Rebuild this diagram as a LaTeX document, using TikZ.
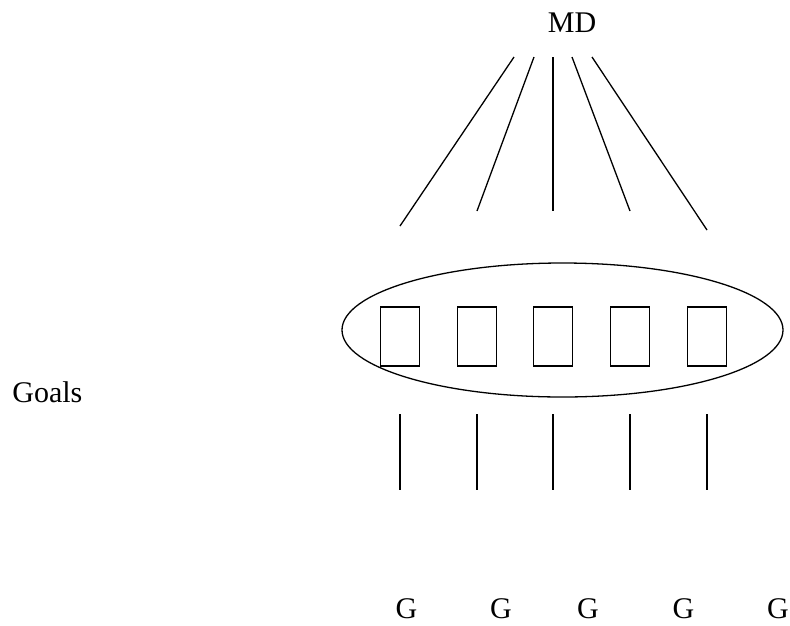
\documentclass[tikz,border=0pt]{standalone}
\usepackage{fontspec}
\setmainfont{Liberation Serif}
\usetikzlibrary{shapes.geometric}
\begin{document}
\begin{tikzpicture}[x=1pt,y=-1pt,
  line width=1.3pt,
  lbl/.style={inner sep=0pt,font=\fontsize{30}{36}\selectfont},
  goalbox/.style={draw,minimum width=39pt,minimum height=59pt,inner sep=0pt},
  ring/.style={draw,ellipse,minimum width=441pt,minimum height=134pt,inner sep=0pt}]
\useasboundingbox (0,0) rectangle (790,625);

% labels
\node[lbl,anchor=base] (md) at (572,32) {MD};
\node[lbl,anchor=base east] (goals) at (83,402) {Goals};

% ellipse holding the five boxes
\node[ring] (ring) at (562.5,330) {};
\foreach \i/\x in {1/400,2/477,3/553,4/630,5/707}{
  \node[goalbox] (b\i) at (\x,336.5) {};
}

% fan of lines under MD
\coordinate (t1) at (514,57);  \coordinate (e1) at (400,226);
\coordinate (t2) at (534,57);  \coordinate (e2) at (477,211);
\coordinate (t3) at (553,57);  \coordinate (e3) at (553,211);
\coordinate (t4) at (572,57);  \coordinate (e4) at (630,211);
\coordinate (t5) at (592,57);  \coordinate (e5) at (707,230);
\foreach \i in {1,...,5}{ \draw (t\i) -- (e\i); }

% vertical lines below the ellipse
\foreach \i/\x in {1/400,2/477,3/553,4/630,5/707}{
  \coordinate (u\i) at (\x,414);
  \coordinate (d\i) at (\x,490);
  \draw (u\i) -- (d\i);
}

% goal letters
\foreach \i/\x in {1/406.5,2/501,3/588,4/683.5,5/778}{
  \node[lbl,anchor=base] (g\i) at (\x,618) {G};
}
\end{tikzpicture}
\end{document}
